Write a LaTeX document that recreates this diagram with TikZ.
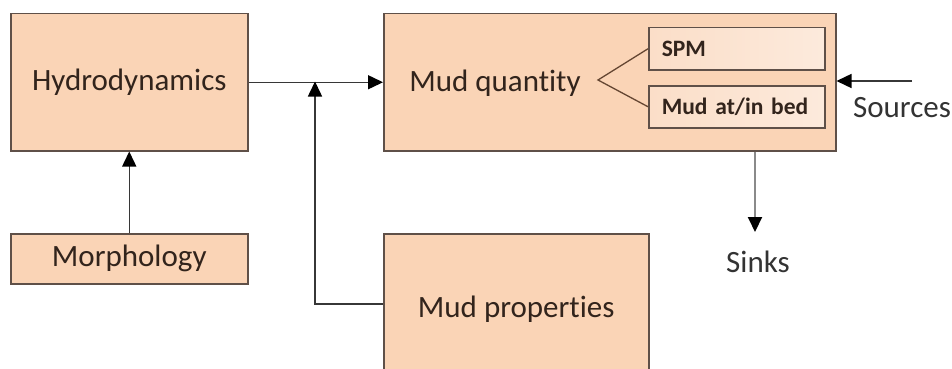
\documentclass[tikz,border=0pt]{standalone}
\usepackage{fontspec}
\setmainfont{Carlito}[Ligatures={NoCommon,NoRare}]
\usetikzlibrary{arrows.meta,calc}

\definecolor{boxfill}{RGB}{250,212,182}
\definecolor{boxline}{RGB}{95,80,72}
\definecolor{innerleft}{RGB}{251,222,200}
\definecolor{innerright}{RGB}{252,234,220}
\definecolor{boxtext}{RGB}{50,36,28}
\definecolor{connline}{RGB}{55,55,55}
\definecolor{sinkline}{RGB}{138,138,138}
\definecolor{veeline}{RGB}{100,70,50}

\tikzset{
  bigfont/.style={font=\fontsize{31}{36}\selectfont},
  block/.style={draw=boxline, line width=1.5pt, fill=boxfill, text=boxtext,
    anchor=north west, inner sep=0pt, bigfont},
  subblock/.style={draw=boxline, line width=1.5pt, left color=innerleft,
    right color=innerright, text=boxtext, anchor=north west,
    inner xsep=13pt, inner ysep=0pt, text width=150pt, align=left,
    minimum width=176pt, minimum height=42pt,
    font=\fontsize{23.5}{28}\selectfont\bfseries},
  plainlabel/.style={text=black!80, bigfont, inner sep=0pt},
  conn/.style={draw=connline, line width=1.5pt,
    -{Triangle[length=15pt,width=14pt,fill=black,color=black]}},
  sinkconn/.style={draw=sinkline, line width=2pt,
    -{Triangle[length=15pt,width=14pt,fill=black,color=black]}},
  veelink/.style={draw=veeline, line width=1.3pt},
}

\begin{document}
\begin{tikzpicture}[x=1pt,y=-1pt]
  \path[use as bounding box] (0,0) rectangle (952,369);
  \clip (0,0) rectangle (952,369);

  % main blocks
  \node[block, minimum width=237pt, minimum height=137pt] (hyd) at (10,13) {Hydrodynamics};
  \node[block, minimum width=237pt, minimum height=50pt] (morph) at (10,233) {Morphology};
  \node[block, minimum width=452pt, minimum height=137pt] (mq) at (383,13) {};
  \node[block, minimum width=265pt, minimum height=150pt] (mp) at (383,233) {Mud properties};

  % content of the mud quantity block
  \node[text=boxtext, bigfont, inner sep=0pt] (mqtext) at (495,83) {Mud quantity};
  \node[subblock] (spm) at (648,27) {SPM};
  \node[subblock] (bed) at (648,85) {Mud at/in bed};
  \coordinate (vee) at (598,80);
  \draw[veelink] (spm.west) -- (vee) -- (bed.west);

  % external labels
  \node[plainlabel] (src) at (902,108) {Sources};
  \node[plainlabel] (snk) at (758,262) {Sinks};

  % connectors
  \coordinate (join) at (315,81.5);
  \draw[conn] (hyd.east) -- (mq.west);
  \draw[conn] (mp.west |- 0,304) -| (join);
  \draw[conn] (morph.north) -- (hyd.south);
  \coordinate (srcstart) at (912,81);
  \draw[conn] (srcstart) -- (mq.east |- srcstart);
  \coordinate (snkend) at (755,232);
  \draw[sinkconn] (snkend |- mq.south) -- (snkend);
\end{tikzpicture}
\end{document}
